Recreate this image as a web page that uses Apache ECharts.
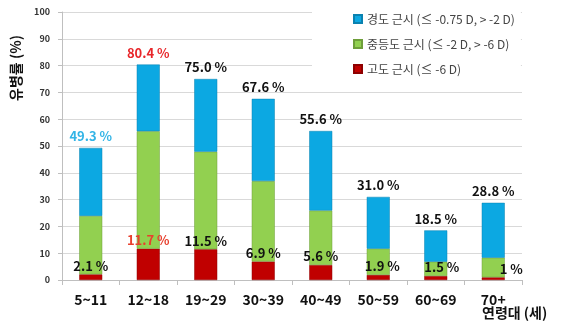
<!DOCTYPE html>
<html><head><meta charset="utf-8">
<script src="https://cdn.jsdelivr.net/npm/echarts@6/dist/echarts.min.js"></script>
<style>html,body{margin:0;padding:0;background:#fff}#c{width:567px;height:335px}</style>
</head><body><div id="c"></div>
<script>
const categories = ['5~11','12~18','19~29','30~39','40~49','50~59','60~69','70+'];
const totals = [49.3, 80.4, 75.0, 67.6, 55.6, 31.0, 18.5, 28.8];
const high = [2.1, 11.7, 11.5, 6.9, 5.6, 1.9, 1.5, 1];
const moderate = [21.8, 43.8, 36.4, 30.0, 20.3, 9.8, 5.3, 7.3];
const yTicks = [0,10,20,30,40,50,60,70,80,90,100];
const seriesNames = ['경도 근시 (≤ -0.75 D, > -2 D)', '중등도 근시 (≤ -2 D, > -6 D)', '고도 근시 (≤ -6 D)'];

const low = totals.map((t, i) => +(t - high[i] - moderate[i]).toFixed(1));
const totalLabelColor = {0: '#33B4E6', 1: '#E8262A'};
const highLabelColor = {1: '#E8402E'};
const highLabelOffset = {5: [4, 0], 6: [6, 0], 7: [18, 0]};
const fmtHigh = v => (Number.isInteger(v) ? v : v.toFixed(1)) + ' %';
const fmtTotal = v => v.toFixed(1) + ' %';
const F = '"Noto Sans CJK KR", "Noto Sans", sans-serif';

const chart = echarts.init(document.getElementById('c'));
chart.setOption({
  animation: false,
  grid: {left: 62, right: 45, top: 12, bottom: 55},
  legend: {
    data: seriesNames, orient: 'vertical', left: 312, top: 7,
    itemWidth: 8, itemHeight: 8, itemGap: 13,
    backgroundColor: '#fff', padding: [6, 6, 6, 41],
    textStyle: {fontFamily: F, fontSize: 12, color: '#444'},
    icon: 'rect'
  },
  title: {text: '연령대 (세)', left: 482, top: 306, padding: 0,
    textStyle: {fontFamily: F, fontSize: 14, fontWeight: 'bold', color: '#111'}},
  graphic: [{type: 'text', x: 16, y: 68, rotation: Math.PI / 2,
    style: {text: '유병률 (%)', align: 'center', verticalAlign: 'middle',
      font: 'bold 14px "Noto Sans CJK KR"', fill: '#111'}}],
  xAxis: {
    type: 'category', data: categories,
    axisLine: {lineStyle: {color: '#BFBFBF'}},
    axisTick: {show: true, length: 5, lineStyle: {color: '#BFBFBF'}},
    axisLabel: {margin: 13, fontFamily: F, fontSize: 14, fontWeight: 'bold', color: '#111'}
  },
  yAxis: {
    type: 'value', min: yTicks[0], max: yTicks[yTicks.length - 1], interval: 10,
    axisLine: {show: true, lineStyle: {color: '#BFBFBF'}},
    axisTick: {show: true, length: 4, lineStyle: {color: '#BFBFBF'}},
    splitLine: {lineStyle: {color: '#D9D9D9'}},
    axisLabel: {margin: 12, fontFamily: F, fontSize: 9, fontWeight: 'bold', color: '#333'}
  },
  series: [
    {name: seriesNames[2], type: 'bar', stack: 's', barWidth: 23,
      itemStyle: {color: '#C00000', borderColor: '#8E0000', borderWidth: 0.5},
      data: high.map((v, i) => ({value: v, label: {color: highLabelColor[i] || '#111', offset: highLabelOffset[i] || [0, 0]}})),
      label: {show: true, position: 'top', distance: 2, formatter: p => fmtHigh(p.value),
        fontFamily: F, fontSize: 13, fontWeight: 'bold'}},
    {name: seriesNames[1], type: 'bar', stack: 's', barWidth: 23,
      itemStyle: {color: '#92D050', borderColor: '#6E9E3A', borderWidth: 0.5},
      data: moderate},
    {name: seriesNames[0], type: 'bar', stack: 's', barWidth: 23,
      itemStyle: {color: '#0CA8E2', borderColor: '#0A82B0', borderWidth: 0.5},
      data: low.map((v, i) => ({value: v, label: {color: totalLabelColor[i] || '#111'}})),
      label: {show: true, position: 'top', distance: 5, formatter: p => fmtTotal(totals[p.dataIndex]),
        fontFamily: F, fontSize: 13, fontWeight: 'bold'}}
  ]
});
</script></body></html>
